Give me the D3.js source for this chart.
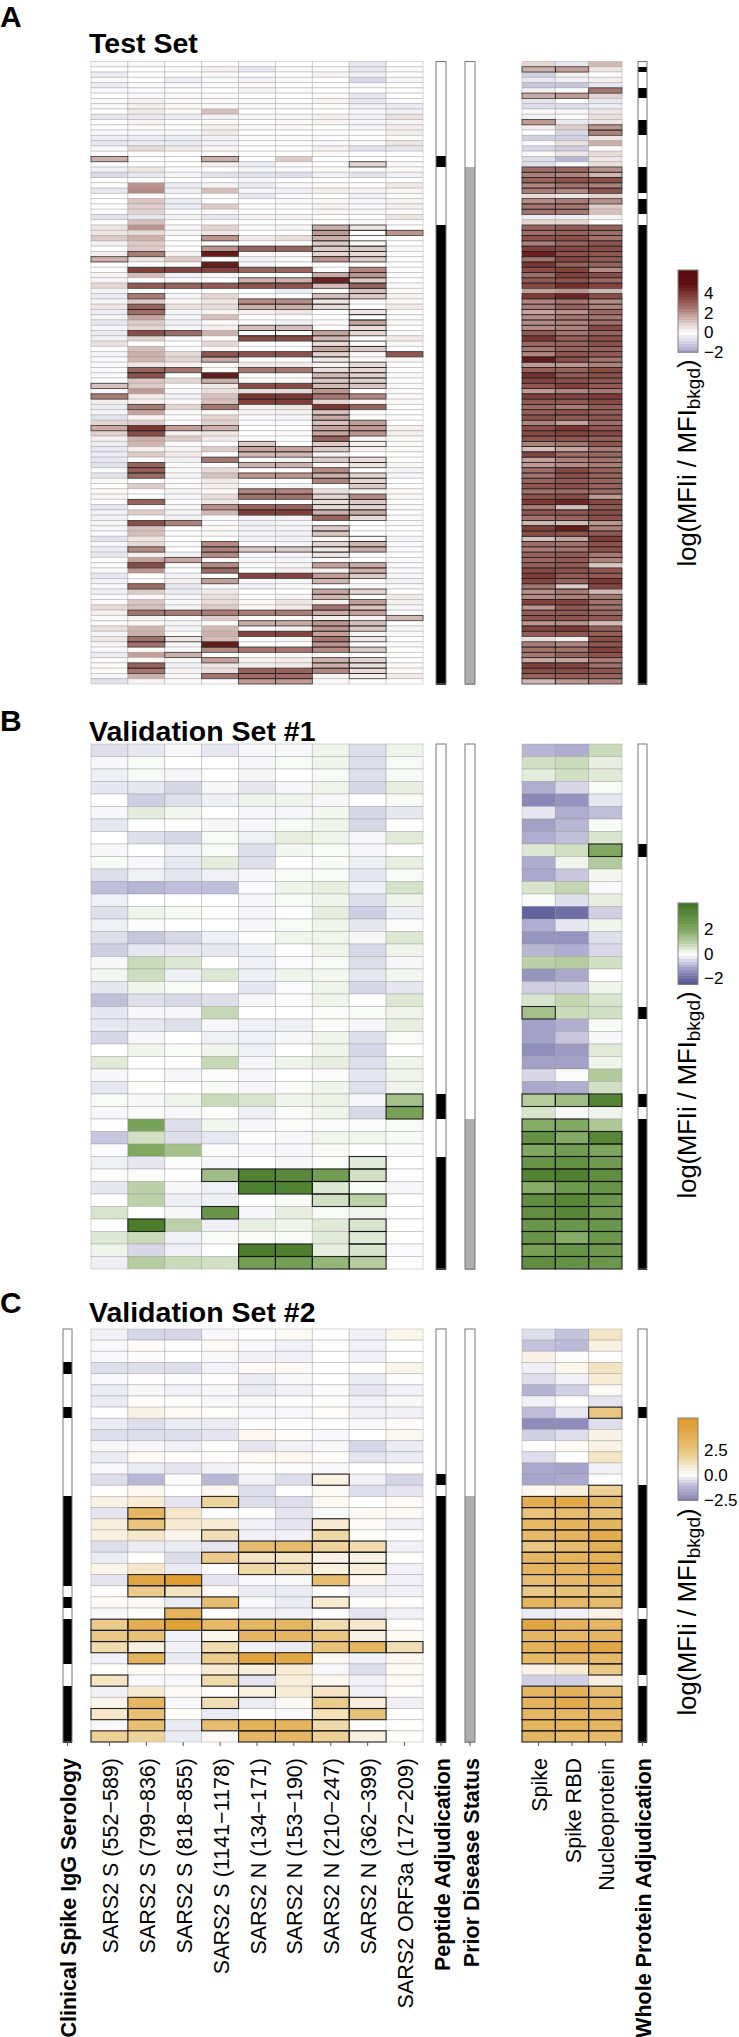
<!DOCTYPE html>
<html><head><meta charset="utf-8">
<script src="https://cdn.jsdelivr.net/npm/d3@7"></script>
<style>html,body{margin:0;padding:0;background:#fff}svg{display:block;font-family:"Liberation Sans",Arial,sans-serif}</style>
</head><body><div id="c"></div>
<script>
const span=(a,b)=>d3.range(a,b+1);

const peptideLabels=["SARS2 S (552−589)","SARS2 S (799−836)","SARS2 S (818−855)","SARS2 S (1141−1178)","SARS2 N (134−171)","SARS2 N (153−190)","SARS2 N (210−247)","SARS2 N (362−399)","SARS2 ORF3a (172−209)"];
const proteinLabels=["Spike","Spike RBD","Nucleoprotein"];

// ---------- Panel A : peptide columns (118 samples)
const A_p1=[-.1,0,-.4,-.1,-.4,-.1,0,-.1,-.1,0,-.5,0,0,-.1,-.4,-.5,-.1,0,1.5,0,-.3,-.8,0,0,-.5,0,0,0,-.1,-.6,0,.5,.5,1,-.3,0,.3,1.5,0,0,.2,-.2,.8,-.2,-.4,-.2,.5,-.4,-.2,-.5,-.2,-.4,-.3,.6,0,-.2,-.1,-.1,-.1,-.1,0,1.2,-.2,2.5,.3,-.4,.2,-.6,.8,1.6,.9,.3,-.4,-.5,-.4,-.5,-.6,-.1,-.6,.1,0,.1,.2,0,-.5,-.3,-.3,-.2,-.2,-.1,-.6,-.1,-.4,-.5,0,.1,-.1,-.5,-.3,-.1,-.3,-.1,-.1,.7,.3,-.1,-.1,.6,-.2,.5,-.2,-.1,-.4,.1,.1,.1,-.2,-.6];
const A_p2=[.1,0,0,0,-.1,-.1,-.1,.3,.3,.4,-.5,.2,.1,-.1,-.4,-.4,.7,.1,.1,0,.5,-.5,0,2,2.2,.1,1.1,.9,.8,-.5,1.2,2,.7,1.5,1,1,2.5,.5,0,3.8,1.3,0,3.2,0,2.5,1,3,2.8,1.7,1,.8,3.5,.8,0,1.2,1.5,1.4,.5,3,3.4,1.1,1,1.9,.4,.3,2.5,1.7,.2,1,4,3.5,1.5,1.4,.3,1,0,3,3.1,2.9,0,1,0,0,3,0,1,0,3.5,1.2,1.2,.5,.7,2.2,.3,1.8,3.5,2,0,.1,2.8,1,-.1,1.1,1.2,2.6,.2,.1,1.4,1.5,2.7,2.7,.1,1.8,.1,3,2.6,1.5,.2];
const A_p3=[0,0,0,-.4,-.1,-.1,-.1,.1,.1,.1,-.4,0,0,-.1,-.4,-.4,.4,0,0,0,-.1,-.2,0,-.4,-.3,-.1,-.4,-.4,-.1,-.3,0,-.2,-.2,0,0,0,.2,1,.1,3.7,-.3,-.1,3,0,-.2,.1,.6,-.2,-.2,-.3,-.2,2.8,-.1,0,-.1,.7,.8,.2,2.7,0,.8,0,-.1,-.3,-.1,.8,-.1,0,-.1,1.8,.3,1,-.1,.2,.4,-.3,-.1,.1,-.2,-.1,.1,-.2,-.2,-.1,-.2,-.2,-.3,2.4,0,-.1,0,-.1,0,-.3,1.7,.1,-.1,-.3,.3,-.5,-.4,-.2,-.1,-.2,2.5,-.1,-.2,-.2,0,.5,-.2,-.1,1.5,.1,-.3,.2,-.2,.1];
const A_p4=[0,.3,-.1,-.1,-.1,0,.1,.1,.1,1.2,-.3,.1,.3,.4,-.3,-.3,.2,.1,1.5,.3,0,-.6,0,.2,1.2,0,0,1,.1,-.5,0,.8,.5,2,0,2,4.7,0,4.7,3.7,.2,0,3.2,0,.8,.5,.7,.2,1.2,.1,.3,1.5,.1,.8,.1,3.3,1.6,.1,.1,4.7,1.5,.4,.6,1.2,1.2,2.6,.1,.8,.9,1.5,.5,.4,0,1,0,2.6,0,.7,1.2,.4,.3,.1,.7,.5,2.1,1.4,-.1,-.1,.1,.1,0,2.2,2.4,2.2,.1,2.2,2.9,0,1.8,-.1,.4,.6,.7,1,2.5,1,.1,1.3,1.5,1.3,4.7,2.2,0,1.8,.5,.6,2.7,-.1];
const A_p5=[-.1,-.5,-.1,-.3,-.1,.2,0,-.1,-.1,0,-.2,0,.1,0,-.1,0,0,0,0,-.4,-.2,-.6,-.1,-.4,-.2,-.5,0,0,0,.2,0,-.1,0,.4,0,3,-.1,-.3,-.2,3,0,1.5,3.3,0,-.1,2.2,1.5,.3,0,0,1.2,.1,3.5,0,0,3.4,0,.4,2.6,0,.1,3.5,.6,4,3.8,.3,.2,-.1,-.1,0,0,0,1,1.7,1.3,-.1,1.5,0,2,0,-.1,2.3,2.7,0,3,3.8,-.3,-.3,-.3,-.2,-.3,-.1,1,-.1,-.2,.1,0,3.7,-.1,-.3,0,0,.1,.1,2.5,0,1.6,.1,3.7,0,0,2.6,0,.3,.3,3,2.8,1.9];
const A_p6=[0,-.1,0,-.1,0,.1,0,0,-.1,0,-.2,.1,.1,0,-.1,0,0,0,1,-.1,-.1,-.7,0,-.1,-.3,-.1,-.1,0,0,.2,0,-.2,0,.6,0,3,-.1,-.1,0,3,-.1,1.5,3.3,-.4,0,2.2,1.5,.5,0,-.3,1.2,.1,3.5,0,0,3.4,0,.4,2.6,0,.1,3.5,.7,4,3.8,.5,.3,-.2,-.1,0,.1,0,0,1.7,1.3,-.2,1.5,0,2,0,-.2,2.3,2.7,0,3,3.8,-.3,-.2,-.2,-.3,-.3,-.2,1,-.2,-.2,.2,.3,3.7,-.2,.1,0,.2,.5,.4,2.5,.1,1.6,.2,3.7,.2,0,2.6,.1,.4,.4,3,2.8,1.9];
const A_p7=[0,0,.2,0,0,0,.1,.2,0,0,.3,.2,0,0,-.1,-.1,.3,.1,0,0,.1,-.3,0,.1,.3,0,.1,.2,.2,.1,0,1.5,1.9,1.5,1,1,.8,2,0,0,1.6,4.5,1.3,0,1.2,.5,.7,0,0,.1,0,1.8,1.3,.7,1.7,.9,.4,.2,.7,1.3,1.1,1.3,2,2.6,.8,4,1.2,1.6,1.2,1.7,1.7,3,1,1,.2,1,.2,2.2,1.5,2.4,0,.6,.8,.6,.7,1.5,3,0,1,1.1,.1,.8,.5,.5,-.1,1.8,.3,1.9,1.4,0,1.7,1.4,.3,2.6,1.6,.3,2,2,1.8,2.6,2,2.2,.1,1.5,1.5,2.3,.2,.1];
const A_p8=[-.5,-.5,-.3,-.8,-.1,0,-.5,-.5,-.3,-.1,-.3,-.2,-.2,0,0,-.1,-.6,0,0,.8,-.1,-.6,0,0,.2,-.3,-.1,-.1,-.2,0,-.1,.5,.1,0,.1,1,.7,1,0,2.3,2,1,3,1.2,1,0,0,.5,0,1.7,.6,.8,0,.1,1,.1,.1,.7,.8,.9,.9,1.1,0,2.3,.2,3,0,0,1.8,1.9,2,.1,.3,.3,0,.6,.5,0,.8,.8,1,.2,2.2,1,.8,1.6,.7,0,0,0,.1,1.4,1.6,0,0,1.6,1.5,1,.1,-.1,.8,0,1.8,1.1,1.8,.2,1.2,1,.2,.4,0,1,0,.8,.6,.7,.3,0];
const A_p9=[0,-.1,0,-.2,0,.1,0,-.1,-.4,-.3,.6,.2,.3,.3,.1,.5,-.5,0,0,.1,.1,-.3,0,.4,.2,.1,.2,.3,.1,.5,0,0,2,0,0,-.1,0,0,0,0,0,0,-.1,.1,.2,.1,.4,0,.1,.1,0,-.1,.4,.1,0,3.3,.1,0,0,-.1,0,-.1,-.1,.1,.1,0,0,0,0,.3,.3,.1,.1,.1,0,0,.1,-.2,-.2,0,0,.1,.1,0,-.1,-.1,-.1,.1,0,0,-.2,-.1,-.1,0,-.1,-.1,-.1,-.2,-.3,-.1,0,.4,.3,-.2,-.1,1.3,0,-.2,-.1,0,.1,0,0,0,.1,.1,.4,0];

const A_hitsPeptide=[
 [18,37,61,63,69],
 [36,39,42,44,46,47,51,58,59,65,69,70,76,77,78,83,87,92,95,99,104,109,110,114,115],
 [39,42,51,58,69,87,94,104,109,112],
 [18,33,35,36,38,39,42,55,56,59,60,65,69,75,84,91,92,93,95,96,98,104,110,111,113,116],
 [35,39,41,42,45,46,50,51,52,55,58,61,63,64,72,73,74,76,78,81,82,84,85,92,97,104,106,108,111,115,116,117],
 [35,39,41,42,45,46,50,51,52,55,58,61,63,64,73,74,76,78,81,82,84,85,92,97,104,106,108,111,115,116,117],
 [...span(31,37),40,41,42,44,45,46,51,52,53,54,55,56,...span(58,63),...span(65,73),75,77,78,79,...span(82,86),88,89,91,92,93,95,97,98,100,101,...span(103,111),113,114,115],
 [19,31,32,34,35,36,37,...span(39,44),47,48,49,50,51,53,54,...span(57,61),63,65,68,69,70,72,75,76,78,79,80,...span(82,86),90,91,92,95,96,97,100,102,103,104,106,107,109,111,...span(113,116)],
 [32,55,105]];

const A_spike=[.8,1.5,-1,-.5,-1.2,.3,1.6,-.6,-.7,.1,-.3,1.9,.3,0,-1,-.1,-.9,.1,-.7,-.7,2.8,2.4,3,2.3,2.5,.7,2.2,2.6,2.7,-.4,.8,3,2.8,3.4,2.4,3.8,4.6,2.7,4,3.5,2.8,3.2,3.6,1.8,3.9,2.3,2.5,1.7,2.1,2.2,2.2,3.2,4,2.9,2.6,2.3,4.8,1.9,3.1,4.2,3.7,3.3,1.9,3.8,3.2,2.9,3.1,3.4,2.4,3.5,3.6,3.3,2.4,1.2,3.7,1.8,1.9,2.8,2.7,3,3.3,2.7,3.4,3.9,2.5,3.3,2.7,1.4,3.8,3.5,1.2,2.8,2.5,3,2.9,3.1,3.6,3.9,3.7,2.6,2.1,2.2,3.8,2,3.1,3.3,2,3.7,3.2,.6,2.5,2.7,2.6,1.6,3.8,3.5,3,1.4];
const A_rbd=[-.5,1.8,.3,-.3,-1.2,0,1.9,0,-.7,-.2,.1,-.5,1,-.8,-1,.6,-1.1,.5,-1.5,-.2,2.9,2.3,3.4,2.7,2.3,.5,2.5,2.6,2.6,-.4,.8,3.2,3,3.4,3,3.6,3.4,3.7,3,3.7,3.8,3.4,4.2,2,4.5,2.6,3,2.1,2.6,2.4,2.4,2.6,3.1,3,3,3.3,3.4,2,3,3.2,3.4,3.8,2.3,3.7,3.2,2.5,3.4,3.2,1.8,4,3.8,3.3,2.6,1.7,2.8,2.4,2.2,3.6,3.4,3.2,3.4,2.8,3.5,4.5,1.2,3.3,3,1.3,4.7,3.4,1.7,2.7,2.6,3.2,3.2,3.2,3.4,3.2,3,1,2.5,2.4,3.7,3.2,3.2,3.3,2.1,3.9,3.3,.3,2.3,2.7,3,1.7,3.7,3.5,3.1,2];
const A_np=[1.3,.5,0,.3,-.5,2.6,.8,-.5,-.4,.5,.6,.5,2,2.4,.5,1.5,0,.7,.5,.6,2.1,1.4,3.4,2.4,3.3,.8,2.1,1,1.2,.2,0,3,2.8,2.7,3.3,3.5,3.3,3.2,3,2.2,3.5,2.9,3.7,1.4,3.5,2.2,2.4,2.9,2.6,2.8,3.6,3,3.4,3.4,3,3.2,2.7,2.4,3.5,3.4,3.3,3.2,2.6,3.9,3.5,3.1,3.1,3.3,2.8,3.3,3.6,3,3.3,2.5,2.9,2.7,2.5,3,3,3,3,2.9,1.9,3.6,3.2,3.5,3.4,2,2.4,3.2,3.9,3.4,3.4,2.6,2.4,1.1,3.3,3.2,4,3.7,1.4,2.6,2.7,2.7,2.9,3.2,1.3,3.1,3.1,3.5,3.3,3.7,3.4,2.5,2.7,3.3,3,2.3];
const A_hitsProtein=[
 [1,6,11,...span(20,24),...span(26,28),...span(31,42),...span(44,108),...span(110,117)],
 [1,6,...span(20,24),...span(26,28),...span(31,42),...span(44,108),...span(110,117)],
 [5,12,13,20,21,...span(22,24),26,...span(31,42),...span(44,94),...span(96,99),...span(101,105),...span(107,117)]];
const A_peptideAdj=[18,19,...span(31,117)];
const A_priorDisease=span(20,117);
const A_proteinAdj=[1,5,6,11,12,13,...span(20,24),26,27,28,...span(31,117)];

// ---------- Panel B : rows (42 samples) x 9 peptides
const B_peptides=[
[-.4,-.3,-.1,-.3,-.1,-.1,.2,-.4,.2],[-.1,.1,0,0,-.1,.1,.2,-.4,.1],[-.2,.1,-.1,0,-.1,0,.1,-.4,.1],[-.3,-.3,-.5,-.1,-.3,-.1,.2,-.5,.3],
[0,-.6,-.4,-.2,.2,.2,-.1,0,.1],[-.1,.35,.15,0,-.1,-.1,.15,-.5,-.3],[-.3,0,0,-.1,-.1,.1,.2,-.5,0],[0,-.4,-.5,.1,-.2,.3,.2,-.1,.4],
[-.1,0,-.2,.1,-.4,.15,.1,-.1,0],[.1,-.1,-.3,.35,-.4,0,.1,-.2,.3],[-.4,-.2,-.3,-.2,-.1,.1,.1,-.3,.1],[-.8,-.9,-.8,-.8,-.05,.2,.3,-.2,.55],
[-.2,0,0,0,-.1,.1,.2,-.4,.2],[-.4,.2,.1,0,-.1,0,.3,-.6,-.2],[-.2,.05,0,0,-.1,.1,.2,-.3,.05],[-.4,-.7,-.5,-.2,0,.2,.2,-.1,.45],
[-.6,-.3,-.3,-.3,-.2,0,.2,-.5,.2],[-.1,.7,.45,0,-.2,-.05,.1,-.4,-.1],[.15,.65,-.2,.45,-.2,.2,.15,-.3,.15],[-.3,.2,.1,0,-.3,-.05,.2,-.5,-.3],
[-.8,-.4,-.5,-.4,-.1,.05,.2,0,.45],[-.3,-.1,-.1,.75,0,0,.05,.1,.2],[-.3,-.3,-.4,-.1,-.2,-.2,.05,-.1,.3],[-.5,-.1,0,-.2,-.2,-.1,.2,-.4,.1],
[0,.2,.1,.2,-.2,0,.2,-.5,0],[.4,0,0,.75,-.1,.2,.3,-.4,.2],[-.1,0,-.1,.05,-.1,0,.05,-.3,.2],[-.3,.05,0,.1,-.1,.05,.2,-.4,.2],
[.1,-.1,.2,.7,.5,.2,.25,-.1,1.3],[-.1,.05,-.1,0,-.2,.05,.2,-.5,2.3],[.02,2.2,-.4,.15,-.1,.05,.05,-.05,.1],[-.7,.6,-.4,-.3,0,-.1,.2,.2,.1],
[-.05,2,1.3,.05,-.1,-.1,.1,0,.05],[-.2,-.3,.05,-.1,0,-.1,.05,.4,0],[.05,.05,0,1.4,3.5,3.2,2.4,.6,-.02],[-.3,.9,-.1,-.2,3.6,3.5,.45,.1,-.1],
[0,.9,-.2,-.2,0,.1,.6,.9,0],[.5,0,-.1,2.8,-.1,.3,.1,.15,0],[0,3.7,.9,-.2,.3,.2,.4,.5,0],[.45,.7,-.2,.1,.1,.1,.4,.4,0],
[.2,-.5,-.2,0,3.7,3.6,.3,.5,-.05],[-.2,1,.7,.6,2.4,2.4,1.6,1,-.02]];
const B_hitsPeptide=[[],[38],[],[34,37],[34,35,40,41],[34,35,40,41],[34,35,36,41],[33,34,36,38,39,40,41],[28,29]];
const B_proteins=[
[-.9,-1,.7],[.6,.7,.3],[.35,.6,.4],[-1,-.5,.1],[-1.6,-1.4,-.3],[-.3,-1,-.8],[-1.2,-.9,.08],[-1,-.8,.5],[.45,.6,2],[-1,.2,1.05],
[-1.1,-.7,.15],[.5,.8,-.08],[.08,-.4,.3],[-2.2,-2,-.6],[-1,-.3,.2],[-1.4,-1.4,-.4],[-.9,-1,-.5],[.9,1,.6],[-1.4,-1.1,0],[-.6,-.6,.2],
[.5,.8,.5],[1.3,.7,.6],[-1.2,-1,.1],[-1.2,-.7,-.1],[-1.5,-1.3,.4],[-1.2,-1.2,.2],[-.5,.05,1.05],[-1.1,-1,.6],[1,1.4,3.4],[.5,-.1,.2],
[1.9,2,1.1],[2.9,1.9,3.3],[2,2.4,2.1],[2.8,2.9,2.5],[3.5,3.6,3],[1.9,2.6,2.8],[3,3.3,2.7],[3,3.3,2.5],[2.7,2.7,2.7],[2.8,1.9,2.7],[2.3,2.8,2.6],[3,2.9,2.7]];
const B_hitsProtein=[[21,28,...span(30,41)],[28,...span(30,41)],[8,28,...span(31,41)]];
const B_peptideAdj=[28,29,...span(33,41)];
const B_priorDisease=span(30,41);
const B_proteinAdj=[8,21,28,...span(30,41)];

// ---------- Panel C : rows (37 samples) x 9 peptides
const C_peptides=[
[-.2,-.6,-.6,-.1,0,.2,0,-.2,.4],[-.1,.05,0,.2,-.1,-.2,-.05,-.2,0],[-.1,-.05,0,-.1,-.2,-.2,0,-.2,0],[-.5,-.5,-.5,-.2,.2,.2,0,0,.4],
[-.1,.05,-.05,.05,-.3,-.1,0,-.3,-.05],[-.3,-.1,-.2,-.1,-.3,-.2,-.05,-.4,-.2],[-.3,.05,.03,-.1,-.1,0,.05,-.2,-.1],[0,.5,.2,.1,-.1,-.1,.1,-.2,-.2],
[-.3,-.5,-.3,-.3,-.05,0,-.05,-.1,.05],[-.5,-.5,-.5,-.4,.3,.1,-.1,0,.3],[-.1,-.1,-.2,.03,-.4,-.2,-.1,-.6,-.3],[-.3,.15,.05,.05,.2,.3,.1,-.4,-.3],
[-.1,-.3,-.4,-.2,-.05,-.05,-.1,0,.05],[-.5,-1.1,-.05,-1.1,-.2,-.5,.6,-.2,-.6],[.1,.3,0,.3,-.5,.05,.2,-.5,-.4],[.5,.8,-.4,1.9,-.5,-.5,.3,0,.2],
[-.4,3.4,1,0,.03,-.4,-.1,.2,.2],[.7,2.5,.9,.8,-.2,-.4,.9,.15,-.2],[.6,1,.4,1.4,-.2,-.2,1.7,.1,0],[-.5,-.3,-.3,-.4,3,3.1,1.9,1.5,-.2],
[-.3,.03,-.5,2.2,1.1,1.1,.5,.5,.08],[.4,1,-.3,-.05,1.7,1.4,.6,.7,-.2],[-.4,4.7,5.4,-.4,-.1,-.1,3,.3,-.2],[.05,2.2,1.2,.2,-.3,-.3,0,-.3,-.2],
[.15,.2,-.3,3,-.1,-.3,.9,.05,.05],[-.1,.1,3.7,.03,-.2,-.2,0,-.4,-.2],[2.2,4,5,3.3,3.5,3.5,1.5,1,.05],[2.3,2.7,-.2,.4,3.4,3.5,2.4,.5,.2],
[1.5,.6,-.2,1.5,-.2,-.3,2.6,3.5,1.4],[-.2,3.6,-.3,2.2,4.8,4.5,.3,-.2,.3],[.1,.15,.1,.9,.7,.8,-.1,-.5,.2],[1.1,-.1,-.1,1.6,-.4,.7,.3,-.2,.2],
[-.2,.9,.2,.1,.6,.8,1.1,-.2,.1],[.4,3.5,-.1,1.4,-.3,.2,2.2,.7,-.2],[1,2.8,.1,-.3,0,-.1,1.3,2.7,0],[-.1,2.8,-.3,3,3.8,3.6,1.6,.08,.02],[2,1.9,-.3,.2,3.4,3.4,2,.6,.08]];
const C_hitsPeptide=[[26,27,28,31,34,36],[16,17,22,23,26,27,28,29,33,34,35],[22,23,25,26],[15,18,20,24,26,27,28,29,31,33,35],[19,20,21,26,27,29,30,32,35,36],[19,20,21,26,27,29,35,36],[13,17,18,19,20,21,22,24,26,27,28,32,33,34,35,36],[19,20,21,26,27,28,33,34,36],[28]];
const C_proteins=[
[-.5,-.9,1.1],[-.9,-1,.6],[.5,-.05,-.03],[-.25,.4,1.2],[-.5,-.2,.8],[-1.2,-.7,.2],[-.2,.03,-.4],[-1,-.35,2.4],[-2.2,-2.2,-.5],[-.7,-.5,.5],
[.05,.15,.5],[-.5,-.02,1.1],[-1.5,-1.6,-.2],[-1.6,-1.5,-.03],[.3,.6,2],[4.2,4.5,3.5],[2.6,3,2.7],[3.3,3.6,3.6],[3.2,3.7,4.2],[2.4,3,3.9],
[3.4,3.6,3.9],[3.6,3.6,4.3],[3,3.2,3.8],[2.3,2.7,2.6],[3.6,3.2,3.1],[-.3,-.2,.5],[4.6,3.7,3.4],[3.5,3.2,3.4],[3.8,4.4,4.5],[3.3,3.5,3.2],
[.5,.8,2.3],[-.7,-.7,.6],[3.5,3.8,3],[3.8,4.3,3.6],[3.5,3.5,3.4],[3.5,3.7,3.4],[3.5,3.2,3.2]];
const C_hitsProtein=[[...span(15,24),...span(26,29),...span(32,36)],[...span(15,24),...span(26,29),...span(32,36)],[7,...span(14,24),...span(26,30),...span(32,36)]];
const C_clinical=[3,7,...span(15,22),24,...span(26,29),...span(32,36)];
const C_peptideAdj=[13,...span(15,36)];
const C_priorDisease=span(15,36);
const C_proteinAdj=[7,...span(14,24),...span(26,30),...span(32,36)];

// ---------- Colour ramps and legend ticks
const A_stops=[-2.5,0,2,3,4,5,6.4], A_ramp=['#8a89b8','#ffffff','#bd958d','#98635b','#7c3730','#5f1011','#5a0c0e'];
const B_stops=[-2.5,-1,0,.5,1,2,4.1], B_ramp=['#4f4f90','#b0aed0','#ffffff','#d8e5cc','#b4cc9e','#7fa860','#3d7420'];
const C_stops=[-2.7,-1,0,2.5,5.7], C_ramp=['#7c79ae','#bdbbd9','#ffffff','#e8c47c','#de9726'];

const T=a=>a[0].map((_,i)=>a.map(r=>r[i]));
const panels=[
 {letter:"A",title:"Test Set",letterY:27,titleY:52.5,top:61.5,bottom:684,pep:[A_p1,A_p2,A_p3,A_p4,A_p5,A_p6,A_p7,A_p8,A_p9],prot:[A_spike,A_rbd,A_np],
  hp:A_hitsPeptide,hr:A_hitsProtein,pa:A_peptideAdj,pd:A_priorDisease,wa:A_proteinAdj,stops:A_stops,ramp:A_ramp,
  legTop:270,legBot:352,legDom:[-2,6.4],ticks:[-2,0,2,4],fmt:d3.format("d"),titleC:463,hw:.8,ho:.72},
 {letter:"B",title:"Validation Set #1",letterY:731,titleY:740.5,top:744,bottom:1269,pep:T(B_peptides),prot:T(B_proteins),
  hp:B_hitsPeptide,hr:B_hitsProtein,pa:B_peptideAdj,pd:B_priorDisease,wa:B_proteinAdj,stops:B_stops,ramp:B_ramp,
  legTop:903,legBot:984.4,legDom:[-2.5,4.1],ticks:[-2,0,2],fmt:d3.format("d"),titleC:1095,hw:1.1,ho:.88},
 {letter:"C",title:"Validation Set #2",letterY:1313,titleY:1322,top:1329,bottom:1742,pep:T(C_peptides),prot:T(C_proteins),
  hp:C_hitsPeptide,hr:C_hitsProtein,pa:C_peptideAdj,pd:C_priorDisease,wa:C_proteinAdj,clin:C_clinical,stops:C_stops,ramp:C_ramp,
  legTop:1418,legBot:1500,legDom:[-2.5,5.7],ticks:[-2.5,0,2.5],fmt:d3.format(".1f"),titleC:1612,hw:1.1,ho:.88}
];

const W=739,H=2037;
const svg=d3.select("#c").append("svg").attr("width",W).attr("height",H).attr("viewBox",`0 0 ${W} ${H}`);
svg.append("rect").attr("width",W).attr("height",H).attr("fill","#fff");

const xPep=d3.scaleBand().domain(peptideLabels).range([91,423]);
const xProt=d3.scaleBand().domain(proteinLabels).range([522,622]);
const bars={clin:[63,72],pa:[436,446],pd:[465,475],wa:[638,647]};

function heat(g,p,cols,labels,x,hits,y,color){
  const cells=cols.flatMap((c,j)=>c.map((v,i)=>({j,i,v})));
  g.selectAll(".cell").data(cells).join("rect").attr("class","cell")
    .attr("x",d=>x(labels[d.j])).attr("y",d=>y(d.i)).attr("width",x.bandwidth()).attr("height",y.bandwidth())
    .attr("fill",d=>color(d.v)).attr("stroke","#8c8c8c").attr("stroke-opacity",.38).attr("stroke-width",.9);
  const hs=hits.flatMap((rows,j)=>rows.map(i=>({j,i})));
  g.selectAll(".hit").data(hs).join("rect").attr("class","hit")
    .attr("x",d=>x(labels[d.j])).attr("y",d=>y(d.i)).attr("width",x.bandwidth()).attr("height",y.bandwidth())
    .attr("fill","none").attr("stroke","#111").attr("stroke-opacity",p.ho).attr("stroke-width",p.hw);
}
function sideBar(g,xr,n,y,rows,on){
  const set=new Set(rows);
  g.append("g").attr("shape-rendering","crispEdges").selectAll("rect").data(d3.range(n)).join("rect")
    .attr("x",xr[0]).attr("width",xr[1]-xr[0]).attr("y",i=>y(i)).attr("height",y.bandwidth()+.5)
    .attr("fill",i=>set.has(i)?on:"#fff");
  g.append("rect").attr("x",xr[0]).attr("width",xr[1]-xr[0]).attr("y",y.range()[0]).attr("height",y.range()[1]-y.range()[0])
    .attr("fill","none").attr("stroke","#777").attr("stroke-width",1);
}

panels.forEach(p=>{
  const g=svg.append("g");
  const n=p.pep[0].length;
  const y=d3.scaleBand().domain(d3.range(n)).range([p.top,p.bottom]);
  const color=d3.scaleLinear().domain(p.stops).range(p.ramp).clamp(true);
  g.append("text").attr("x",0).attr("y",p.letterY).attr("font-size",30).attr("font-weight",700).text(p.letter);
  g.append("text").attr("x",89).attr("y",p.titleY).attr("font-size",28.5).attr("font-weight",700).text(p.title);
  heat(g.append("g"),p,p.pep,peptideLabels,xPep,p.hp,y,color);
  heat(g.append("g"),p,p.prot,proteinLabels,xProt,p.hr,y,color);
  if(p.clin) sideBar(g,bars.clin,n,y,p.clin,"#000");
  sideBar(g,bars.pa,n,y,p.pa,"#000");
  sideBar(g,bars.pd,n,y,p.pd,"#aeaeae");
  sideBar(g,bars.wa,n,y,p.wa,"#000");

  // legend
  const ly=d3.scaleLinear().domain(p.legDom).range([p.legBot,p.legTop]);
  const steps=d3.range(28).map(i=>p.legDom[0]+(p.legDom[1]-p.legDom[0])*i/28);
  const dv=(p.legDom[1]-p.legDom[0])/28;
  const lg=g.append("g").attr("shape-rendering","crispEdges");
  lg.selectAll("rect").data(steps).join("rect").attr("x",678).attr("width",20)
    .attr("y",v=>ly(v+dv)).attr("height",v=>ly(v)-ly(v+dv)+.5).attr("fill",v=>color(v+dv/2));
  g.append("rect").attr("x",678).attr("y",p.legTop).attr("width",20).attr("height",p.legBot-p.legTop)
    .attr("fill","none").attr("stroke","#808080").attr("stroke-width",1);
  const ax=g.append("g").attr("transform","translate(698,0)")
    .call(d3.axisRight(ly).tickValues(p.ticks).tickSize(0).tickPadding(6).tickFormat(p.fmt));
  ax.select(".domain").remove();
  ax.selectAll("text").attr("font-size",17).attr("font-family",'"Liberation Sans"').attr("fill","#000");
  const lt=g.append("text").attr("transform",`translate(696,${p.titleC}) rotate(-90)`).attr("text-anchor","middle").attr("font-size",25.5);
  lt.append("tspan").text("log(MFIi / MFI");
  lt.append("tspan").attr("font-size",19).attr("dy",4).text("bkgd");
  lt.append("tspan").attr("dy",-4).text(")");

  if(p.letter==="C"){
    const tickG=(x)=>{
      const a=g.append("g").attr("transform",`translate(0,${p.bottom})`)
        .call(d3.axisBottom(x).tickSize(4).tickFormat(""));
      a.select(".domain").remove();
      a.selectAll("line").attr("stroke","#555");
    };
    tickG(xPep); tickG(xProt);
    [bars.clin,bars.pa,bars.pd,bars.wa].forEach(b=>g.append("line")
      .attr("x1",(b[0]+b[1])/2).attr("x2",(b[0]+b[1])/2).attr("y1",p.bottom).attr("y2",p.bottom+4).attr("stroke","#555"));
    const rot=(lab,cx,bold)=>g.append("text").attr("transform",`translate(${cx+8.5},1758) rotate(-90)`)
      .attr("text-anchor","end").attr("font-size",21.5).attr("font-weight",bold?700:400).text(lab);
    peptideLabels.forEach(l=>rot(l,xPep(l)+xPep.bandwidth()/2,false));
    proteinLabels.forEach(l=>rot(l,xProt(l)+xProt.bandwidth()/2,false));
    rot("Clinical Spike IgG Serology",(bars.clin[0]+bars.clin[1])/2,true);
    rot("Peptide Adjudication",(bars.pa[0]+bars.pa[1])/2,true);
    rot("Prior Disease Status",(bars.pd[0]+bars.pd[1])/2,true);
    rot("Whole Protein Adjudication",(bars.wa[0]+bars.wa[1])/2,true);
  }
});
</script></body></html>
